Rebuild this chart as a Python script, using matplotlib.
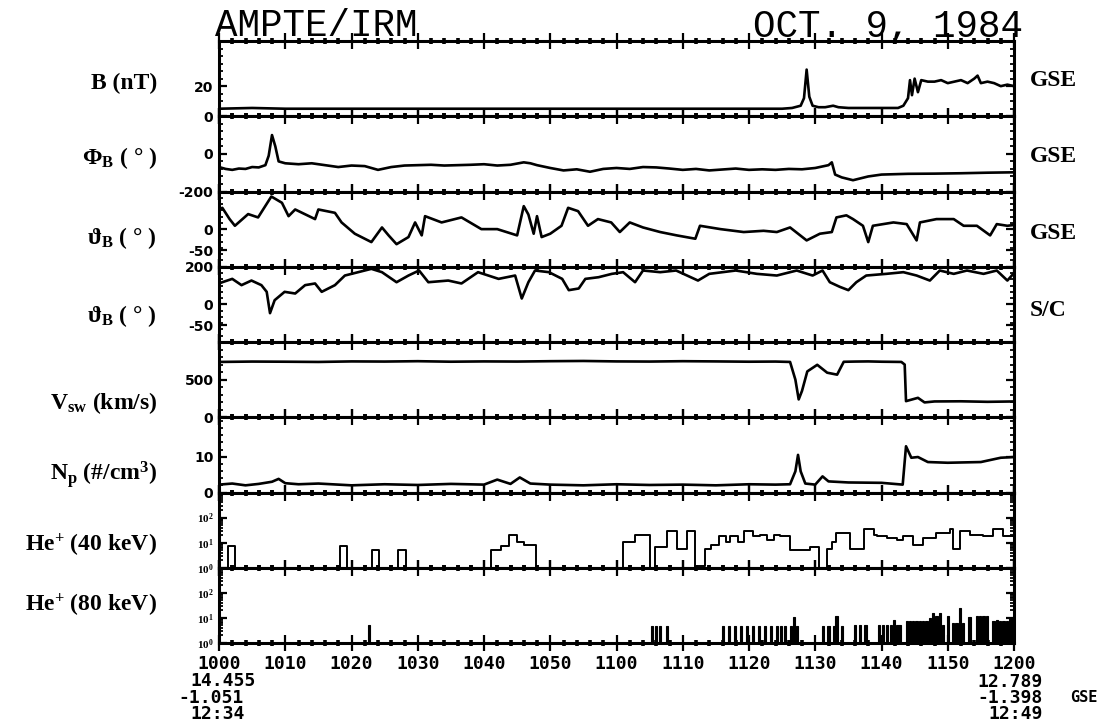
## AMPTE/IRM overview plot, Oct 9 1984 (10:00-12:00 UT)

import numpy as np
import matplotlib
matplotlib.use('Agg')
import matplotlib.pyplot as plt
from matplotlib.ticker import MultipleLocator, FixedLocator, FixedFormatter, LogLocator, NullFormatter

plt.rcParams['mathtext.fontset'] = 'custom'
plt.rcParams['mathtext.rm'] = 'Liberation Serif:bold'
plt.rcParams['mathtext.it'] = 'Liberation Serif:bold'
plt.rcParams['mathtext.bf'] = 'Liberation Serif:bold'

# time axis: minutes after 10:00 UT
xtick_min = [0, 10, 20, 30, 40, 50, 60, 70, 80, 90, 100, 110, 120]
xtick_labels = ['1000', '1010', '1020', '1030', '1040', '1050', '1100',
                '1110', '1120', '1130', '1140', '1150', '1200']

# B (nT)
b_t = [0, 5, 10, 20, 30, 40, 50, 60, 70, 80, 85, 86.5, 87.8, 88.3, 88.7, 89.1, 89.6, 90.5, 91.5, 92.7,
       93.5, 95, 100, 102.5, 103.3, 104, 104.3, 104.6, 105, 105.5, 106, 107, 108, 109, 110, 111, 112, 113,
       114, 114.5, 115, 116, 117, 118, 119, 120]
b_val = [5, 5.5, 5, 5, 5, 5, 5, 5, 5, 5, 5, 5.5, 7, 12, 31, 13, 7, 6, 6, 7,
         6, 5.5, 5.5, 5.5, 7, 12, 24, 14, 25, 16, 24, 23, 23, 24, 22, 23, 24, 22,
         25, 27, 22, 23, 22, 20, 21, 20]

# Phi_B (deg, GSE)
phi_t = [0, 1, 2, 3, 4, 5, 6, 7, 7.5, 8, 8.5, 9,
         10, 12, 14, 16, 18, 20, 22, 24, 26, 28, 30, 32, 34, 36, 38, 40, 42, 44, 46, 47, 48,
         50, 52, 54, 56, 58, 60, 62, 64, 66, 68, 70, 72, 74, 76, 78, 80, 82,
         84, 86, 88, 90, 92, 92.5, 93, 94, 95.7, 98, 100, 104, 108, 112, 116, 120]
phi_val = [-70, -80, -85, -78, -80, -70, -72, -60, -10, 100, 40, -40,
           -50, -55, -50, -60, -70, -62, -65, -85, -70, -62, -60, -58, -62, -60, -58, -55, -62, -58, -45, -50, -60,
           -75, -88, -82, -95, -80, -75, -80, -70, -72, -78, -85, -80, -88, -83, -78, -85, -82,
           -85, -80, -82, -75, -60, -45, -110, -125, -140, -120, -110, -106, -105, -103, -100, -98]

# theta_B (deg, GSE)
thg_t = [0, 0.5, 1.6, 2.4, 4.4, 5.9, 7.9, 9.5, 10.5, 11.5, 14.5, 15, 17.5, 18.5, 20.5, 22, 23, 24.6,
         25.6, 26.8, 28.6, 29.6, 30.6, 31.1, 33.6, 36.6, 39.6, 42, 45, 46, 46.7, 47.5, 48, 48.7, 50,
         51.7, 52.7, 54.2, 55.7, 57.2, 59.2, 60.5, 62, 64, 66.6, 69.1, 71.9, 72.6, 75.7, 79.2, 82.2,
         84.2, 86.2, 88.7, 90.7, 92.5, 93.2, 94.7, 95.7, 97.2, 98, 98.7, 101.8, 103.8, 105.3, 105.8,
         108.3, 110.9, 112.4, 114.4, 116.4, 117.4, 119, 120]
thg_val = [45, 51, 24, 8, 36, 28, 78, 63, 31, 47, 24, 47, 39, 16, -11, -23, -31, 4,
           -15, -36, -19, 16, -15, 31, 16, 28, 0, 0, -15, 55, 35, -11, 31, -19, -11,
           8, 51, 43, 8, 24, 16, -7, 16, 4, -7, -15, -23, 8, 0, -7, -4,
           -7, 4, -27, -11, -7, 28, 33, 24, 8, -31, 8, 16, 12, -27, 16,
           24, 24, 8, 8, -15, 12, 8, 10]

# theta_B (deg, S/C)
ths_t = [0, 0.5, 2, 3.4, 4.9, 6.4, 7.2, 7.7, 8.4, 9.9, 11.5, 13, 14.5, 15.5, 17.5, 19, 21, 23, 24.6,
         26.8, 28.6, 30.2, 31.6, 34.6, 36.6, 39.1, 42.2, 44.7, 45.7, 46.7, 47.7, 49.8, 51.8, 52.8,
         54.3, 55.3, 57.3, 59.3, 61, 62.8, 64, 66.6, 69, 72.3, 74, 78, 81.2, 84.2, 87.2, 89.6, 91.1,
         92.2, 93.7, 95, 96.2, 97.7, 100.7, 103.3, 105.3, 107.3, 108.8, 110.9, 112.9, 115.4, 117.4,
         119, 120]
ths_val = [50, 53, 61, 46, 57, 46, 30, -21, 10, 30, 26, 46, 50, 30, 46, 69, 77, 85, 77,
           53, 69, 81, 53, 57, 50, 77, 61, 69, 14, 53, 81, 77, 61, 34,
           38, 61, 65, 73, 77, 53, 81, 77, 81, 57, 73, 81, 73, 69, 81, 69, 81,
           53, 42, 34, 53, 69, 73, 77, 69, 57, 81, 73, 81, 73, 81,
           57, 75]

# V_sw (km/s)
v_t = [0, 5, 10, 15, 20, 25, 30, 35, 40, 45, 50, 55, 60, 65, 70, 75, 80, 84, 86.2, 87, 87.5, 88,
       88.8, 90.3, 91.8, 93.3, 94.3, 96, 98, 100, 103, 103.5, 103.7, 105.5, 106.5, 108, 112, 116, 120]
v_val = [735, 740, 738, 735, 742, 740, 745, 738, 742, 740, 745, 748, 742, 740, 745, 742, 738, 740,
         735, 500, 237, 350, 609, 697, 592, 566, 737, 740, 742, 738, 735, 700, 214, 258, 197, 210,
         212, 205, 210]

# N_p (#/cm^3)
n_t = [0, 2, 4, 6, 8, 9, 10, 12, 15, 20, 25, 30, 35, 40, 42, 44, 45.4, 47, 50, 55,
       60, 65, 70, 75, 80, 84, 86.2, 87, 87.4, 87.8, 88.5, 90, 91.1, 92, 95, 100, 103.2, 103.7,
       104.5, 105.5, 107, 110, 115, 118, 120]
n_val = [2.2, 2.5, 2.0, 2.4, 3.0, 3.8, 2.6, 2.3, 2.5, 2.0, 2.3, 2.1, 2.4, 2.2, 3.6, 2.4, 4.2, 2.5, 2.2, 2.0,
         2.3, 2.1, 2.2, 2.0, 2.3, 2.2, 2.3, 5.9, 10.5, 5.9, 2.5, 2.2, 4.5, 3.1, 2.8, 2.7, 2.2, 12.9,
         9.7, 9.9, 8.5, 8.3, 8.5, 9.7, 9.9]

# He+ 40 keV counts (step series)
he40_t = [0, 1.4, 2.4, 18.3, 19.3, 23.1, 24.2, 27.0, 28.2, 41.0, 42.5, 43.8, 45.0, 46.0, 47.8, 61.0,
          62.8, 65.0, 65.8, 67.6, 69.1, 70.6, 71.8, 73.3, 74.3, 75.5, 76.5, 77.2, 78.3, 79.3, 80.6,
          81.6, 82.7, 83.7, 84.7, 86.2, 87.9, 89.2, 90.5, 91.7, 92.5, 93.2, 93.7, 95.2, 95.8, 97.3,
          97.8, 98.8, 99.3, 100.8, 102.3, 103.3, 104.8, 106.3, 108.3, 110.3, 110.8, 111.8, 113.3,
          115.3, 116.9, 118.4, 120]
he40_val = [1, 7.5, 1, 7.5, 1, 5, 1, 5, 1, 5, 7.5, 21, 11, 8, 1, 11,
            21, 1, 6.8, 29, 5.6, 29, 1.2, 5.6, 8, 18, 11, 18, 11, 29, 18,
            21, 13, 21, 18, 5, 4.9, 6.8, 1, 5.8, 11, 25, 25, 5.8, 5.8, 34,
            34, 21, 18, 15, 13, 18, 8, 15, 25, 34, 5.8, 30, 21,
            18, 34, 18, 18]

# He+ 80 keV counts (individual pulses)
he80_t = [22.6, 65.4, 66.0, 66.6, 67.6, 76.1, 77.0, 77.9, 78.8, 79.7, 80.6, 81.5, 82.4, 83.3, 84.2,
          84.8, 85.4, 86.3, 86.8, 87.2, 91.2, 92.0, 92.8, 93.2, 94.0, 96.0, 96.8, 97.6, 99.6, 100.2,
          100.8, 101.4, 101.9, 102.4, 102.8, 103.8, 104.3, 104.8, 105.3, 105.8, 106.3, 106.8, 107.3,
          107.8, 108.3, 108.8, 109.3, 110.0, 110.8, 111.3, 111.8, 112.3, 113.3, 114.4, 114.9, 115.4,
          115.9, 116.9, 117.4, 117.9, 118.4, 118.9, 119.4, 119.8]
he80_val = [5, 4.8, 4.8, 4.8, 4.8, 4.8, 4.8, 4.8, 4.8, 4.8, 4.8, 4.8, 4.8, 4.8, 4.8,
            4.8, 4.8, 4.8, 11, 4.8, 4.8, 4.8, 4.8, 12, 4.8, 5, 5, 5, 5, 5,
            5, 5, 8, 5, 5, 7.7, 7.7, 7.7, 7.7, 7.7, 7.7, 7.7, 10,
            15, 12, 15, 5, 12, 6, 6, 24, 6, 11, 12, 12, 12,
            12, 7.7, 8, 7.7, 7.7, 7.7, 10, 8]

# panel y ranges / labelled ticks
ylims = [(0, 50), (-200, 200), (-90, 90), (-90, 90), (0, 1000), (0, 21), (1, 1000), (1, 1000)]
ytick_pos = [[0, 20], [0, -200], [0, -50], [90, 0, -50], [0, 500], [0, 10]]
ytick_lab = [['0', '20'], ['0', '-200'], ['0', '-50'], ['200', '0', '-50'], ['0', '500'], ['0', '10']]
yminor = [5, 40, 15, 15, 100, 2]
log_ticks = [1, 10, 100]
log_labels = [r'$10^{0}$', r'$10^{1}$', r'$10^{2}$']

left_labels = ['B (nT)', r'$\Phi_{B}$ ( ° )', r'$\vartheta_{B}$ ( ° )', r'$\vartheta_{B}$ ( ° )',
               r'V$_{sw}$ (km/s)', r'N$_{p}$ (#/cm$^{3}$)', r'He$^{+}$ (40 keV)', r'He$^{+}$ (80 keV)']
left_label_y = [83, 158, 238, 316, 403, 474, 545, 605]
right_labels = ['GSE', 'GSE', 'GSE', 'S/C']
right_label_y = [80, 156, 233, 310]

W, H = 1111, 721
fig = plt.figure(figsize=(W / 100, H / 100), dpi=100)
gs = fig.add_gridspec(8, 1, left=219 / W, right=1014 / W, top=1 - 41 / H, bottom=1 - 643 / H, hspace=0)
axes = [fig.add_subplot(gs[i]) for i in range(8)]

lw = 1.9
axes[0].plot(b_t, b_val, color='black', lw=lw)
axes[1].plot(phi_t, phi_val, color='black', lw=lw)
axes[2].plot(thg_t, thg_val, color='black', lw=lw)
axes[3].plot(ths_t, ths_val, color='black', lw=lw)
axes[4].plot(v_t, v_val, color='black', lw=lw)
axes[5].plot(n_t, n_val, color='black', lw=lw)
axes[6].step(he40_t, he40_val, where='post', color='black', lw=1.4)
axes[7].bar(he80_t, np.array(he80_val) - 1, bottom=1, width=0.35, color='black', edgecolor='black', lw=0.8)

for i, ax in enumerate(axes):
    ax.set_xlim(0, 120)
    for s in ax.spines.values():
        s.set_linewidth(2.2)
    ax.xaxis.set_major_locator(FixedLocator(xtick_min))
    ax.xaxis.set_minor_locator(MultipleLocator(2))
    ax.tick_params(axis='x', which='both', top=True, bottom=True, direction='inout', labelbottom=False)
    ax.tick_params(axis='x', which='major', length=11, width=1.6)
    ax.tick_params(axis='x', which='minor', length=5, width=2.6)
    ax.tick_params(axis='y', which='both', left=True, right=True, direction='in')
    ax.tick_params(axis='y', which='major', length=6, width=1.6, pad=4)
    ax.tick_params(axis='y', which='minor', length=3, width=1.3)
    if i < 6:
        ax.set_ylim(*ylims[i])
        ax.yaxis.set_major_locator(FixedLocator(ytick_pos[i]))
        ax.yaxis.set_major_formatter(FixedFormatter(ytick_lab[i]))
        ax.yaxis.set_minor_locator(MultipleLocator(yminor[i]))
    else:
        ax.set_yscale('log')
        ax.set_ylim(*ylims[i])
        ax.yaxis.set_minor_locator(LogLocator(base=10, subs=np.arange(2, 10) * 1.0, numticks=10))
        ax.yaxis.set_minor_formatter(NullFormatter())
        ax.yaxis.set_major_locator(FixedLocator(log_ticks))
        ax.yaxis.set_major_formatter(FixedFormatter(log_labels))
    for lab in ax.get_yticklabels():
        lab.set_fontfamily('DejaVu Sans')
        lab.set_fontweight('bold')
        lab.set_fontsize(10 if i < 6 else 8)

ax = axes[-1]
ax.xaxis.set_major_formatter(FixedFormatter(xtick_labels))
ax.tick_params(axis='x', labelbottom=True, pad=3)
for lab in ax.get_xticklabels():
    lab.set_fontfamily('DejaVu Sans Mono')
    lab.set_fontweight('bold')
    lab.set_fontsize(13)

serif = ['Liberation Serif', 'DejaVu Serif']
for txt, y in zip(left_labels, left_label_y):
    fig.text(157 / W, 1 - y / H, txt, ha='right', va='center', family=serif,
             weight='bold', fontsize=17)
for txt, y in zip(right_labels, right_label_y):
    fig.text(1030 / W, 1 - y / H, txt, ha='left', va='center', family=serif,
             weight='bold', fontsize=17)

# header
fig.text(215 / W, 1 - 36 / H, 'AMPTE/IRM', ha='left', va='baseline', family='Liberation Mono', fontsize=27)
fig.text(1023 / W, 1 - 37 / H, 'OCT. 9, 1984', ha='right', va='baseline', family='Liberation Mono', fontsize=27)

# orbit info under the axis ends
mono = dict(family='DejaVu Sans Mono', weight='bold', fontsize=13, va='center')
fig.text(190 / W, 1 - 681 / H, '14.455', ha='left', **mono)
fig.text(178 / W, 1 - 698 / H, '-1.051', ha='left', **mono)
fig.text(190 / W, 1 - 714 / H, '12:34', ha='left', **mono)
fig.text(1043 / W, 1 - 682 / H, '12.789', ha='right', **mono)
fig.text(1043 / W, 1 - 698 / H, '-1.398', ha='right', **mono)
fig.text(988 / W, 1 - 714 / H, '12:49', ha='left', **mono)
fig.text(1070 / W, 1 - 698 / H, 'GSE', ha='left', family='DejaVu Sans Mono', weight='bold', fontsize=11, va='center')

fig.savefig('out.png', dpi=100)
